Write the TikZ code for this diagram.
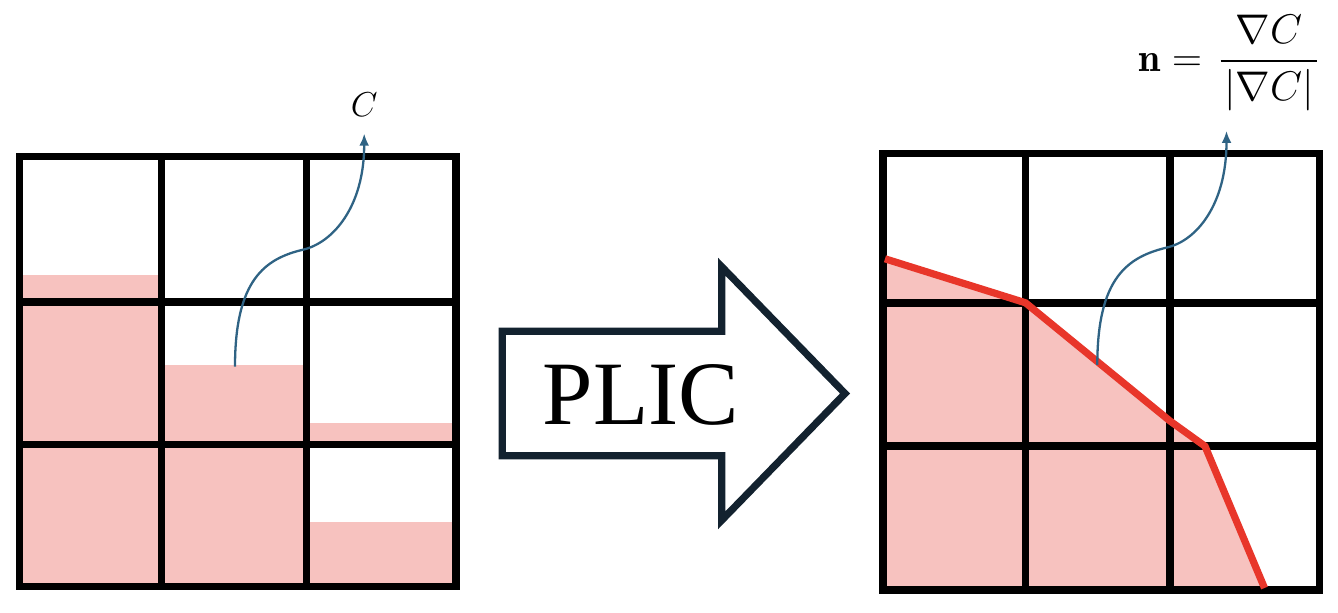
\documentclass[tikz,border=0pt]{standalone}
\usepackage{amsmath}
\usepackage{fontspec}
\newfontfamily\plicfont{Liberation Serif}
\usetikzlibrary{arrows.meta}
\definecolor{fillpink}{HTML}{F7C2BF}
\definecolor{plicred}{HTML}{E8362A}
\definecolor{curveblue}{HTML}{2F6384}
\definecolor{arrownavy}{HTML}{13222F}
\tikzset{
  gridline/.style={line width=3.75pt, draw=black},
  vofcurve/.style={line width=1.15pt, draw=curveblue, -{Latex[length=6pt,width=5pt]}},
  interface/.style={line width=3.6pt, draw=plicred, line join=miter},
  bigarrow/.style={line width=3.6pt, draw=arrownavy, line join=miter},
  liquid/.style={fill=fillpink},
  mathlabel/.style={inner sep=0, font=\fontsize{19}{22}\selectfont},
  formlabel/.style={inner sep=0, font=\fontsize{20}{23}\selectfont}
}
\begin{document}
\begin{tikzpicture}[x=0.5pt,y=-0.5pt]
\useasboundingbox (0,0) rectangle (1338,613);
% ---------- left grid fills ----------
\fill[liquid] (19.5,275) rectangle (161.7,586.3);
\fill[liquid] (161.7,365) rectangle (306.3,586.3);
\fill[liquid] (306.3,422.7) rectangle (456,444.7);
\fill[liquid] (306.3,522.3) rectangle (456,586.3);
% ---------- left grid ----------
\draw[gridline] (19.5,156.7) rectangle (456,586.3);
\draw[gridline] (161.7,156.7) -- (161.7,586.3);
\draw[gridline] (306.3,156.7) -- (306.3,586.3);
\draw[gridline] (19.5,302.2) -- (456,302.2);
\draw[gridline] (19.5,444.7) -- (456,444.7);
% ---------- right grid fill ----------
\fill[liquid] (882.8,258.3) -- (1025.5,302.8) -- (1170,421) -- (1205,446.2) -- (1264,590) -- (882.8,590) -- cycle;
% ---------- right grid ----------
\draw[gridline] (882.8,153.7) rectangle (1319.3,590);
\draw[gridline] (1025.5,153.7) -- (1025.5,590);
\draw[gridline] (1170,153.7) -- (1170,590);
\draw[gridline] (882.8,302.8) -- (1319.3,302.8);
\draw[gridline] (882.8,446.2) -- (1319.3,446.2);
% ---------- PLIC interface ----------
\draw[interface] (885,258.8) -- (1025.5,302.8) -- (1170,421) -- (1205,446.2) -- (1264.5,588);
% ---------- big arrow ----------
\draw[bigarrow] (502.2,331.3) -- (721.7,331.3) -- (721.7,266.7) -- (845,393.5)
  -- (721.7,520.3) -- (721.7,455.8) -- (502.2,455.8) -- cycle;
\node[inner sep=0, anchor=base, font=\plicfont\fontsize{45.3}{50}\selectfont] (plic) at (640.8,425) {PLIC};
% ---------- labels ----------
\node[mathlabel, anchor=base] (lblC) at (364.2,116.7) {$C$};
\node[formlabel, anchor=base west] (lbln) at (1138,71.7)
  {$\mathbf{n} = \mkern2mu\dfrac{\nabla C}{\mkern1.5mu|\nabla C|\mkern1.5mu}$};
% ---------- curves ----------
\coordinate (s1) at (235,366.7);
\coordinate (t1) at (364.2,133.7);
\coordinate (s2) at (1097.3,365);
\coordinate (t2) at (1226.5,131);
\draw[vofcurve] (s1) .. controls (235,279.7) and (265,258.7) .. (303,249.7)
  .. controls (333,242.7) and (364.2,206.7) .. (t1);
\draw[vofcurve] (s2) .. controls (1097.3,278) and (1127.3,257) .. (1167,247.5)
  .. controls (1197,240.5) and (1226.5,204) .. (t2);
\end{tikzpicture}
\end{document}
